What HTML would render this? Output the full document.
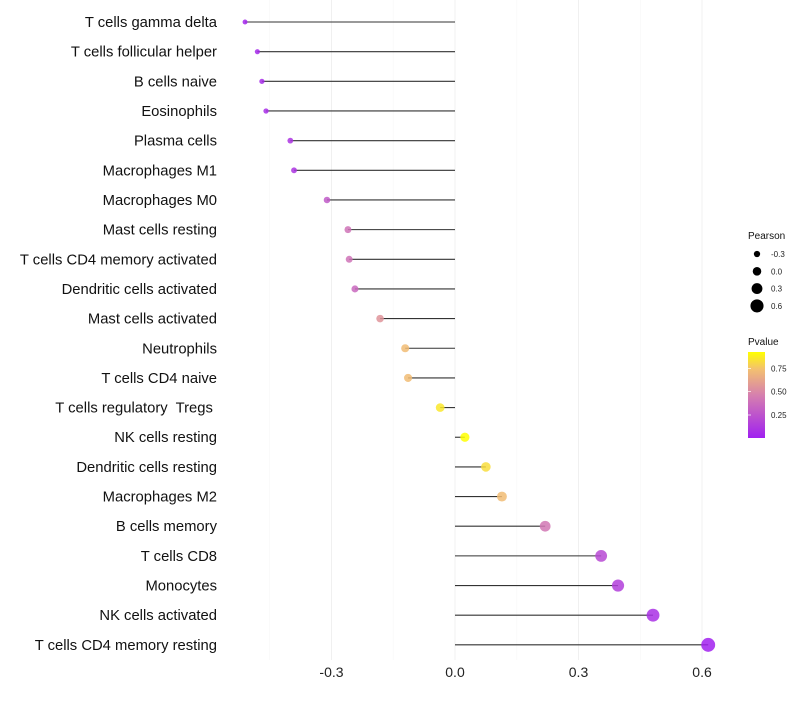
<!DOCTYPE html>
<html><head><meta charset="utf-8"><style>
body{margin:0;background:#fff;font-family:"Liberation Sans",sans-serif}
text{white-space:pre}
</style></head><body>
<svg id="chart" width="800" height="700" xmlns="http://www.w3.org/2000/svg" font-family="Liberation Sans, sans-serif">
<defs><linearGradient id="pg" x1="0" y1="1" x2="0" y2="0">
<stop offset="0" stop-color="#A020F0"/><stop offset="0.5" stop-color="#D680AE"/><stop offset="0.8" stop-color="#F3C070"/><stop offset="1" stop-color="#FFFF00"/></linearGradient></defs>
<g id="grid"></g><g id="marks"></g><g id="labels"></g><g id="legend"></g>
</svg>
<script>
const categories=["T cells gamma delta","T cells follicular helper","B cells naive","Eosinophils","Plasma cells","Macrophages M1","Macrophages M0","Mast cells resting","T cells CD4 memory activated","Dendritic cells activated","Mast cells activated","Neutrophils","T cells CD4 naive","T cells regulatory  Tregs ","NK cells resting","Dendritic cells resting","Macrophages M2","B cells memory","T cells CD8","Monocytes","NK cells activated","T cells CD4 memory resting"];
const pearson=[-0.51,-0.48,-0.469,-0.459,-0.40,-0.391,-0.311,-0.26,-0.257,-0.243,-0.182,-0.121,-0.114,-0.036,0.024,0.075,0.114,0.219,0.355,0.396,0.481,0.615];
const pvalue=[0.03,0.05,0.06,0.07,0.1,0.1,0.28,0.4,0.4,0.35,0.55,0.72,0.72,0.85,0.92,0.82,0.72,0.42,0.2,0.15,0.08,0.01];
const xTicks=[-0.3,0,0.3,0.6];
const xTickLabels=["-0.3","0.0","0.3","0.6"];
const NS="http://www.w3.org/2000/svg";
const x=v=>455+v*411.7;
const y=i=>22+i*29.66;
const r=v=>Math.max(1.5,4.5+4*v);
function lerp(a,b,t){return a.map((c,i)=>Math.round(c+(b[i]-c)*t));}
const stops=[[0,[160,32,240]],[0.5,[214,128,174]],[0.8,[243,192,112]],[1,[255,255,0]]];
function col(p){const t=Math.max(0,Math.min(1,(p-0.005)/(0.92-0.005)));for(let k=1;k<stops.length;k++){if(t<=stops[k][0]){const u=(t-stops[k-1][0])/(stops[k][0]-stops[k-1][0]);const c=lerp(stops[k-1][1],stops[k][1],u);return `rgb(${c})`;}}return "rgb(255,255,0)";}
function mk(tag,at,parent,txt){const e=document.createElementNS(NS,tag);for(const k in at)e.setAttribute(k,at[k]);if(txt!==undefined)e.textContent=txt;document.getElementById(parent).appendChild(e);return e;}
[-0.45,-0.15,0.15,0.45].forEach(v=>{const e=mk('line',{x1:x(v),x2:x(v),y1:0,y2:660,stroke:'#f7f7f7','stroke-width':0.6},'grid');

});
xTicks.forEach((v,i)=>{const e=mk('line',{x1:x(v),x2:x(v),y1:0,y2:660,stroke:'#f0f0f0','stroke-width':1},'grid');


const t=mk('text',{x:x(v),y:677,'text-anchor':'middle','font-size':14,fill:'#222'},'labels',xTickLabels[i]);

});
categories.forEach((c,i)=>{
const t=mk('text',{x:217,y:y(i)+5,'text-anchor':'end','font-size':14.8,fill:'#111'},'labels',c);


const l=mk('line',{x1:x(0),x2:x(pearson[i]),y1:y(i),y2:y(i),stroke:'#333','stroke-width':1.1},'marks');


const p=mk('circle',{cx:x(pearson[i]),cy:y(i),r:r(pearson[i]),fill:col(pvalue[i]),'fill-opacity':0.85},'marks');

});
const lt=mk('text',{x:748,y:239,'font-size':10,fill:'#111'},'legend','Pearson');


[-0.3,0,0.3,0.6].forEach((v,i)=>{const cy=254+i*17.3;
const c=mk('circle',{cx:757,cy:cy,r:r(v)*0.95,fill:'#000'},'legend');


const t=mk('text',{x:771,y:cy+3,'font-size':8,fill:'#222'},'legend',xTickLabels[i]);

});
const pt=mk('text',{x:748,y:345,'font-size':10,fill:'#111'},'legend','Pvalue');


const bar=mk('rect',{x:748,y:352,width:17,height:86,fill:'url(#pg)'},'legend');


[[0.75,368.5],[0.5,391.5],[0.25,415]].forEach(([v,yy])=>{
const tk=mk('line',{x1:748,x2:751,y1:yy,y2:yy,stroke:'#fff','stroke-width':0.7},'legend');


const t=mk('text',{x:771,y:yy+3,'font-size':8,fill:'#222'},'legend',v.toFixed(2));

});
</script>
</body></html>
